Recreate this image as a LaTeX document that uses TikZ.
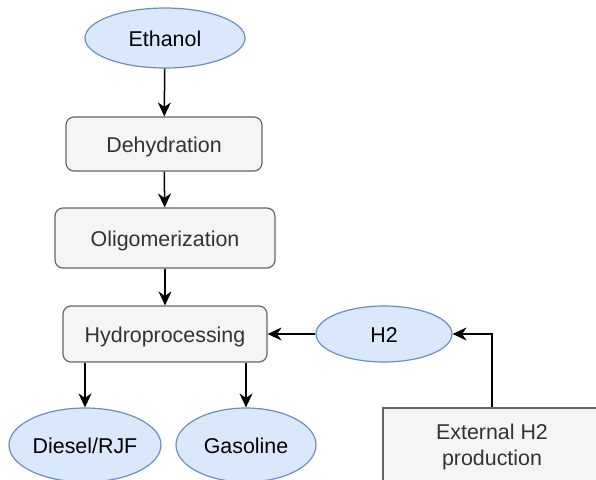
\documentclass[tikz,border=0pt]{standalone}
\usepackage{fontspec}
\setmainfont{Liberation Sans}
\usepackage{xcolor}
\usetikzlibrary{arrows.meta, shapes.geometric}

\definecolor{boxfill}{HTML}{F5F5F5}
\definecolor{boxline}{HTML}{666666}
\definecolor{boxtext}{HTML}{333333}
\definecolor{ovalfill}{HTML}{DAE8FC}
\definecolor{ovalline}{HTML}{6C8EBF}

\begin{document}
\begin{tikzpicture}[
  x=0.5pt, y=-0.5pt,
  box/.style={draw=boxline, fill=boxfill, text=boxtext, rounded corners=4pt,
              line width=0.6pt, inner sep=0pt, align=center,
              font=\fontsize{10.7}{13}\selectfont},
  oval/.style={ellipse, draw=ovalline, fill=ovalfill, line width=0.6pt,
               inner sep=0pt, font=\fontsize{10.7}{13}\selectfont},
  oneline/.style={text height=9pt, text depth=0.5pt},
  arr/.style={-{Stealth[length=7pt, width=6.5pt]}, line width=0.75pt}
]
  \clip (0,0) rectangle (596,479);

  \node[oval, oneline, minimum width=80pt, minimum height=30pt]  (ethanol) at (165,38)  {Ethanol};
  \node[box, oneline, minimum width=98pt, minimum height=27pt]   (dehyd)   at (164,144) {Dehydration};
  \node[box, oneline, minimum width=110pt, minimum height=30pt]  (oligo)   at (165,238) {Oligomerization};
  \node[box, oneline, minimum width=102pt, minimum height=28pt]  (hydro)   at (165,334) {Hydroprocessing};
  \node[oval, oneline, minimum width=68pt, minimum height=28pt]  (htwo)    at (384,334) {H2};
  \node[box, rounded corners=0pt, minimum width=109pt,
        minimum height=39pt]                                     (exth2)   at (492,447)
        {External H2\\production};
  \node[oval, oneline, minimum width=76pt, minimum height=37pt]  (diesel)  at (85,445)  {Diesel/RJF};
  \node[oval, oneline, minimum width=70pt, minimum height=37pt]  (gasol)   at (246,445) {Gasoline};

  \draw[arr] (ethanol) -- (dehyd);
  \draw[arr] (dehyd)   -- (oligo);
  \draw[arr] (oligo)   -- (hydro);
  \draw[arr] (htwo)    -- (hydro);
  \draw[arr] (exth2.north) |- (htwo.east);
  \draw[arr] (diesel.north |- hydro.south) -- (diesel.north);
  \draw[arr] (gasol.north |- hydro.south)  -- (gasol.north);
\end{tikzpicture}
\end{document}
